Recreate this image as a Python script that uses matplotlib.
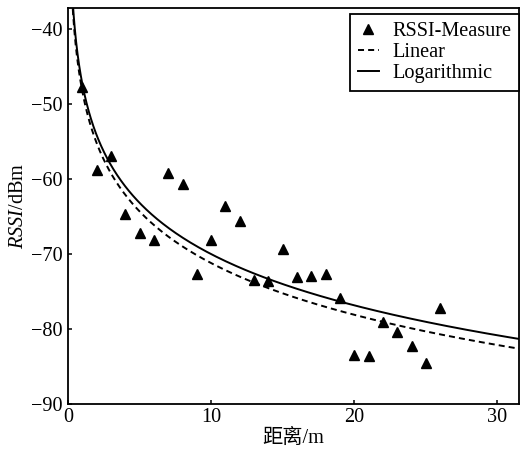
import matplotlib
matplotlib.use("Agg")
import matplotlib.pyplot as plt
import numpy as np

# 字体：西文用 Times 风格，中文回退到 Noto Sans CJK
plt.rcParams['font.family'] = ['Liberation Serif', 'Noto Sans CJK SC']
plt.rcParams['mathtext.fontset'] = 'custom'
plt.rcParams['mathtext.rm'] = 'Liberation Serif'
plt.rcParams['mathtext.it'] = 'Liberation Serif:italic'

# 实测 RSSI 数据（距离 m, RSSI dBm）
dist = [1, 2, 3, 4, 5, 6, 7, 8, 9, 10, 11, 12, 13,
        14, 15, 16, 17, 18, 19, 20, 21, 22, 23, 24, 25, 26]
rssi = [-47.7, -58.8, -56.9, -64.7, -67.2, -68.1, -59.2, -60.6, -72.7,
        -68.1, -63.6, -65.6, -73.5, -73.6, -69.3, -73.1, -72.9, -72.7,
        -75.8, -83.4, -83.6, -79.1, -80.4, -82.2, -84.5, -77.2]

# 拟合曲线参数 RSSI = A - B*log10(d)
lin_A, lin_B = -48.3, 22.9
log_A, log_B = -47.3, 22.7

xticks = [0, 10, 20, 30]
yticks = [-90, -80, -70, -60, -50, -40]

fs = 14.6
d = np.geomspace(0.2, 31.6, 400)

fig = plt.figure(figsize=(5.2, 4.55), dpi=100)
ax = fig.add_axes([0.1308, 0.112, 0.867, 0.870])

ax.plot(dist, rssi, linestyle='none', marker='^', color='black',
        markersize=6.6, label='RSSI-Measure')
ax.plot(d, lin_A - lin_B * np.log10(d), color='black', lw=1.4,
        dashes=(3.1, 2.1), label='Linear')
ax.plot(d, log_A - log_B * np.log10(d), color='black', lw=1.4,
        label='Logarithmic')

ax.set_xlim(0, 31.5)
ax.set_ylim(-90, -37.2)
ax.set_xticks(xticks)
ax.set_yticks(yticks)
ax.tick_params(direction='in', length=3, width=1.1, labelsize=fs,
               top=False, right=False)
ax.tick_params(axis='y', pad=4)
ax.tick_params(axis='x', pad=3)
for s in ax.spines.values():
    s.set_linewidth(1.3)

ax.set_xlabel('距离/m', fontsize=fs, labelpad=1)
ax.set_ylabel(r'$\mathit{RSSI}$/dBm', fontsize=fs, labelpad=2)

leg = ax.legend(loc='upper right', bbox_to_anchor=(1.0, 0.985),
                borderaxespad=0, fontsize=fs, fancybox=False,
                edgecolor='black', framealpha=1, handlelength=1.05,
                handletextpad=0.65, labelspacing=0.1, borderpad=0.38)
leg.get_frame().set_linewidth(1.3)

fig.savefig('out.png', dpi=100)
